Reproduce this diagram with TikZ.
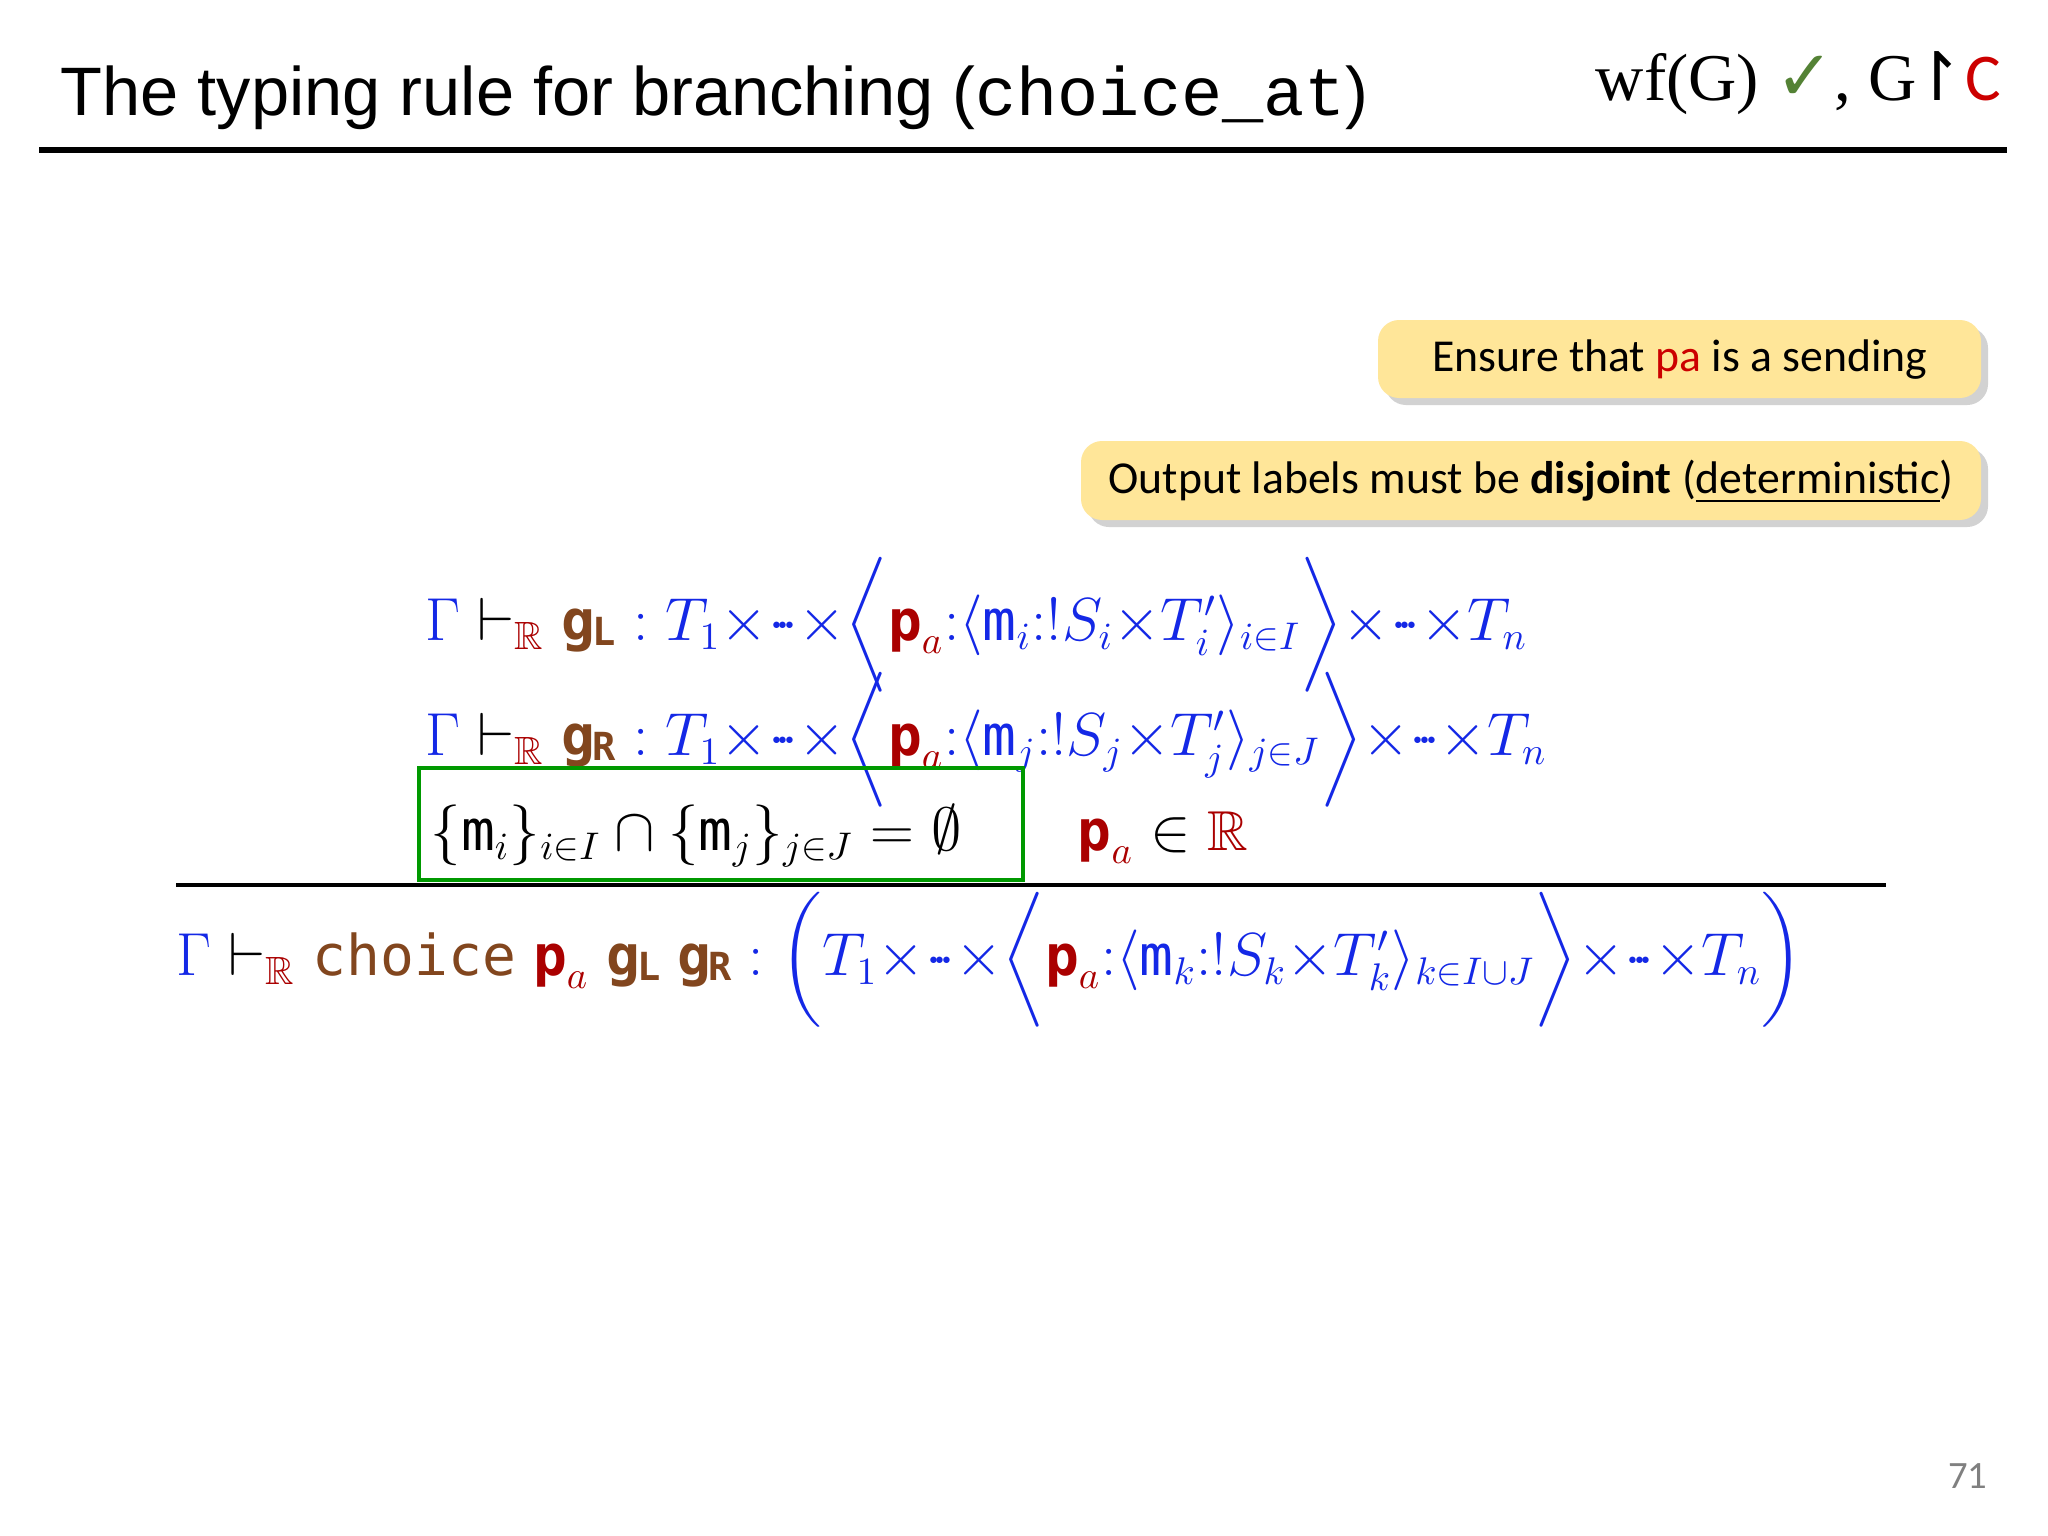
\documentclass[tikz,border=0pt]{standalone}
\usepackage{amsmath,amssymb}
\usepackage{fontspec}
\usetikzlibrary{shadows}
\newfontfamily\hel{Liberation Sans}
\newfontfamily\lser{Liberation Serif}
\newfontfamily\lmono{Liberation Mono}
\newfontfamily\dejav{DejaVu Sans}
\newfontfamily\calfont{Carlito}
\newfontfamily\dmono{DejaVu Sans Mono}
\definecolor{tyblue}{RGB}{20,40,230}
\definecolor{tybrown}{RGB}{130,70,30}
\definecolor{tyred}{RGB}{170,0,0}
\definecolor{noteyellow}{RGB}{255,230,153}
\definecolor{chkgreen}{RGB}{84,130,53}
\newcommand{\gL}{\text{\color{tybrown}\dmono\bfseries g\kern-0.05em\raisebox{-0.1em}{\fontsize{11}{11}\selectfont L}}}
\newcommand{\gR}{\text{\color{tybrown}\dmono\bfseries g\kern-0.05em\raisebox{-0.1em}{\fontsize{11}{11}\selectfont R}}}
\newcommand{\pa}{\text{\color{tyred}\dmono\bfseries p}_{\color{tyred}a}}
\newcommand{\RR}{{\color{tyred}\mathbb{R}}}
\newcommand{\vd}{\mathrel{{\color{black}\vdash}_{\RR}}}
\newcommand{\mm}{\text{\dmono m}}
\newcommand{\tdots}{{\times}{\cdot}\!{\cdot}\!{\cdot}{\times}}
\begin{document}
\begin{tikzpicture}[x=0.01cm,y=-0.01cm,
  note/.style={fill=noteyellow,rounded corners=6pt,drop shadow={shadow xshift=2pt,shadow yshift=-2pt,opacity=0.35}},
  formula/.style={anchor=base west,inner sep=0pt,font=\fontsize{16}{19}\selectfont}]
\useasboundingbox (0,0) rectangle (2048,1536);
\fill[white] (0,0) rectangle (2048,1536);
\node[anchor=base west,inner sep=0pt,font=\hel\fontsize{19.5}{23}\selectfont] (title) at (60,115) {The typing rule for branching ({\lmono choice\_at})};
\node[anchor=base east,inner sep=0pt,font=\lser\fontsize{19}{23}\selectfont] (hdr) at (2002,100) {wf(G) {\dejav\color{chkgreen}\fontsize{20}{22}\selectfont ✓}, G{\dejav\kern-0.1em↾}{\calfont\color{red!80!black}C}};
\draw[line width=1.5pt] (39,150) -- (2007,150);
\path[note] (1378,320) rectangle (1981,398);
\node[inner sep=0pt,font=\calfont\fontsize{13}{16}\selectfont] (n1) at (1680,360) {Ensure that {\color{red!80!black}pa} is a sending};
\path[note] (1081,441) rectangle (1981,520);
\node[inner sep=0pt,font=\calfont\fontsize{13}{16}\selectfont] (n2) at (1531,482) {Output labels must be \textbf{disjoint} (\underline{deterministic})};
\node[formula] (l1) at (425,640) {$\color{tyblue}\Gamma \vd \gL : T_1\tdots\bigg\langle \pa{:}\langle \mm_i{:}!S_i{\times}T'_i\rangle_{i\in I}\bigg\rangle\tdots T_n$};
\node[formula] (l2) at (425,755) {$\color{tyblue}\Gamma \vd \gR : T_1\tdots\bigg\langle \pa{:}\langle \mm_j{:}!S_j{\times}T'_j\rangle_{j\in J}\bigg\rangle\tdots T_n$};
\node[formula] (l3) at (430,850) {$\{\mm_i\}_{i\in I}\cap\{\mm_j\}_{j\in J}=\emptyset$};
\draw[green!60!black,line width=1pt] (419,768) rectangle (1023,880);
\node[formula] (l4) at (1077,850) {$\pa \in \RR$};
\draw[line width=1.2pt] (176,885) -- (1886,885);
\node[formula] (l5) at (176,975) {$\color{tyblue}\Gamma \vd \text{\color{tybrown}\dmono choice}\ \pa\ \gL\ \gR : \bigg( T_1\tdots\bigg\langle \pa{:}\langle \mm_k{:}!S_k{\times}T'_k\rangle_{k\in I\cup J}\bigg\rangle\tdots T_n\bigg)$};
\node[anchor=base east,inner sep=0pt,font=\calfont\fontsize{11}{13}\selectfont,text=gray] (pg) at (1988,1488) {71};
\end{tikzpicture}
\end{document}
